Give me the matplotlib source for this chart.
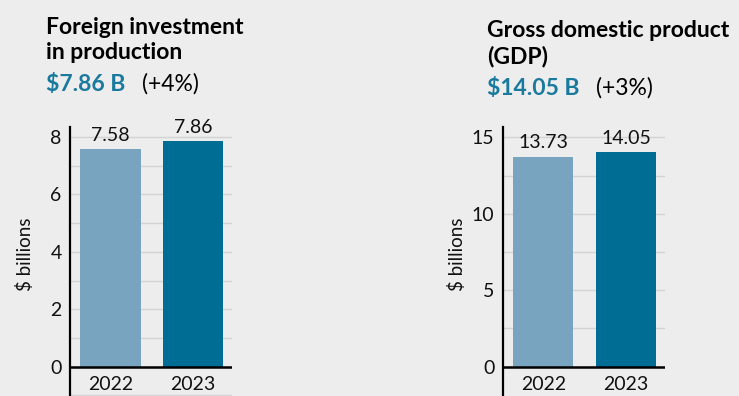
import matplotlib
matplotlib.use("Agg")
import matplotlib.pyplot as plt
from matplotlib.ticker import MultipleLocator

# Data
years = ["2022", "2023"]
fdi_values = [7.58, 7.86]
gdp_values = [13.73, 14.05]
fdi_title = "Foreign investment\nin production"
gdp_title = "Gross domestic product\n(GDP)"
fdi_headline = "$7.86 B"
gdp_headline = "$14.05 B"
fdi_change = "(+4%)"
gdp_change = "(+3%)"

# Styling
bg = "#EDEDED"
bar_colors = ["#78A4C0", "#006D94"]
head_blue = "#1A7A9E"
grid_col = "#D3D3D3"
ink = "#111111"
W, H = 739, 396
num_size = 14

plt.rcParams["font.family"] = ["Lato", "DejaVu Sans"]

fig = plt.figure(figsize=(W / 100, H / 100), dpi=100)
fig.patch.set_facecolor(bg)


def px(x, y):
    return x / W, 1 - y / H


def panel(left_px, right_px, values, top, major, minor):
    # axes run from the top of the spine down to the bottom edge of the figure
    unit = (366.7 - 126.7) / top
    bottom = -(396 - 366.7) / unit
    ax = fig.add_axes([left_px / W, 0, (right_px - left_px) / W, (396 - 126.7) / H])
    ax.set_facecolor(bg)
    x = list(range(len(values)))
    ax.bar(x, values, width=0.73, color=bar_colors, zorder=3)
    ax.set_xlim(-0.49, 1.47)
    ax.set_ylim(bottom, top)
    ax.yaxis.set_major_locator(MultipleLocator(major))
    ax.yaxis.set_minor_locator(MultipleLocator(minor))
    ax.set_yticks([t for t in ax.get_yticks() if 0 <= t <= top])
    ax.grid(axis="y", which="both", color=grid_col, lw=1, zorder=0)
    ax.tick_params(axis="y", which="both", length=0, pad=6, labelsize=num_size, labelcolor=ink)
    ax.set_xticks([])
    for s in ["top", "right", "bottom"]:
        ax.spines[s].set_visible(False)
    ax.spines["left"].set_linewidth(1.6)
    ax.axhline(0, color="black", lw=1.8, zorder=4)
    for xi, v, lab in zip(x, values, years):
        ax.annotate(f"{v:.2f}", (xi, v), xytext=(0, 6), textcoords="offset points",
                    ha="center", va="baseline", fontsize=num_size, color=ink)
        ax.annotate(lab, (xi, 0), xytext=(0, -7), textcoords="offset points",
                    ha="center", va="top", fontsize=num_size, color=ink)
    return ax


panel(70, 232, fdi_values, 8.36, 2, 1)
panel(502.7, 665, gdp_values, 15.7, 5, 2.5)

# y-axis labels
for xl in (25, 457):
    fig.text(*px(xl, 254), "$ billions", rotation=90, ha="center", va="center",
             fontsize=13.5, color=ink)

# headings
fig.text(*px(46, 59), fdi_title, ha="left", va="baseline", fontsize=16.5,
         fontweight="bold", linespacing=1.25)
fig.text(*px(46, 91), fdi_headline, ha="left", va="baseline", fontsize=16.5,
         fontweight="bold", color=head_blue)
fig.text(*px(142, 91), fdi_change, ha="left", va="baseline", fontsize=16.5)

fig.text(*px(487, 63), gdp_title, ha="left", va="baseline", fontsize=16.5,
         fontweight="bold", linespacing=1.25)
fig.text(*px(487, 95), gdp_headline, ha="left", va="baseline", fontsize=16.5,
         fontweight="bold", color=head_blue)
fig.text(*px(596, 95), gdp_change, ha="left", va="baseline", fontsize=16.5)

fig.savefig("out.png", dpi=100, facecolor=bg)
